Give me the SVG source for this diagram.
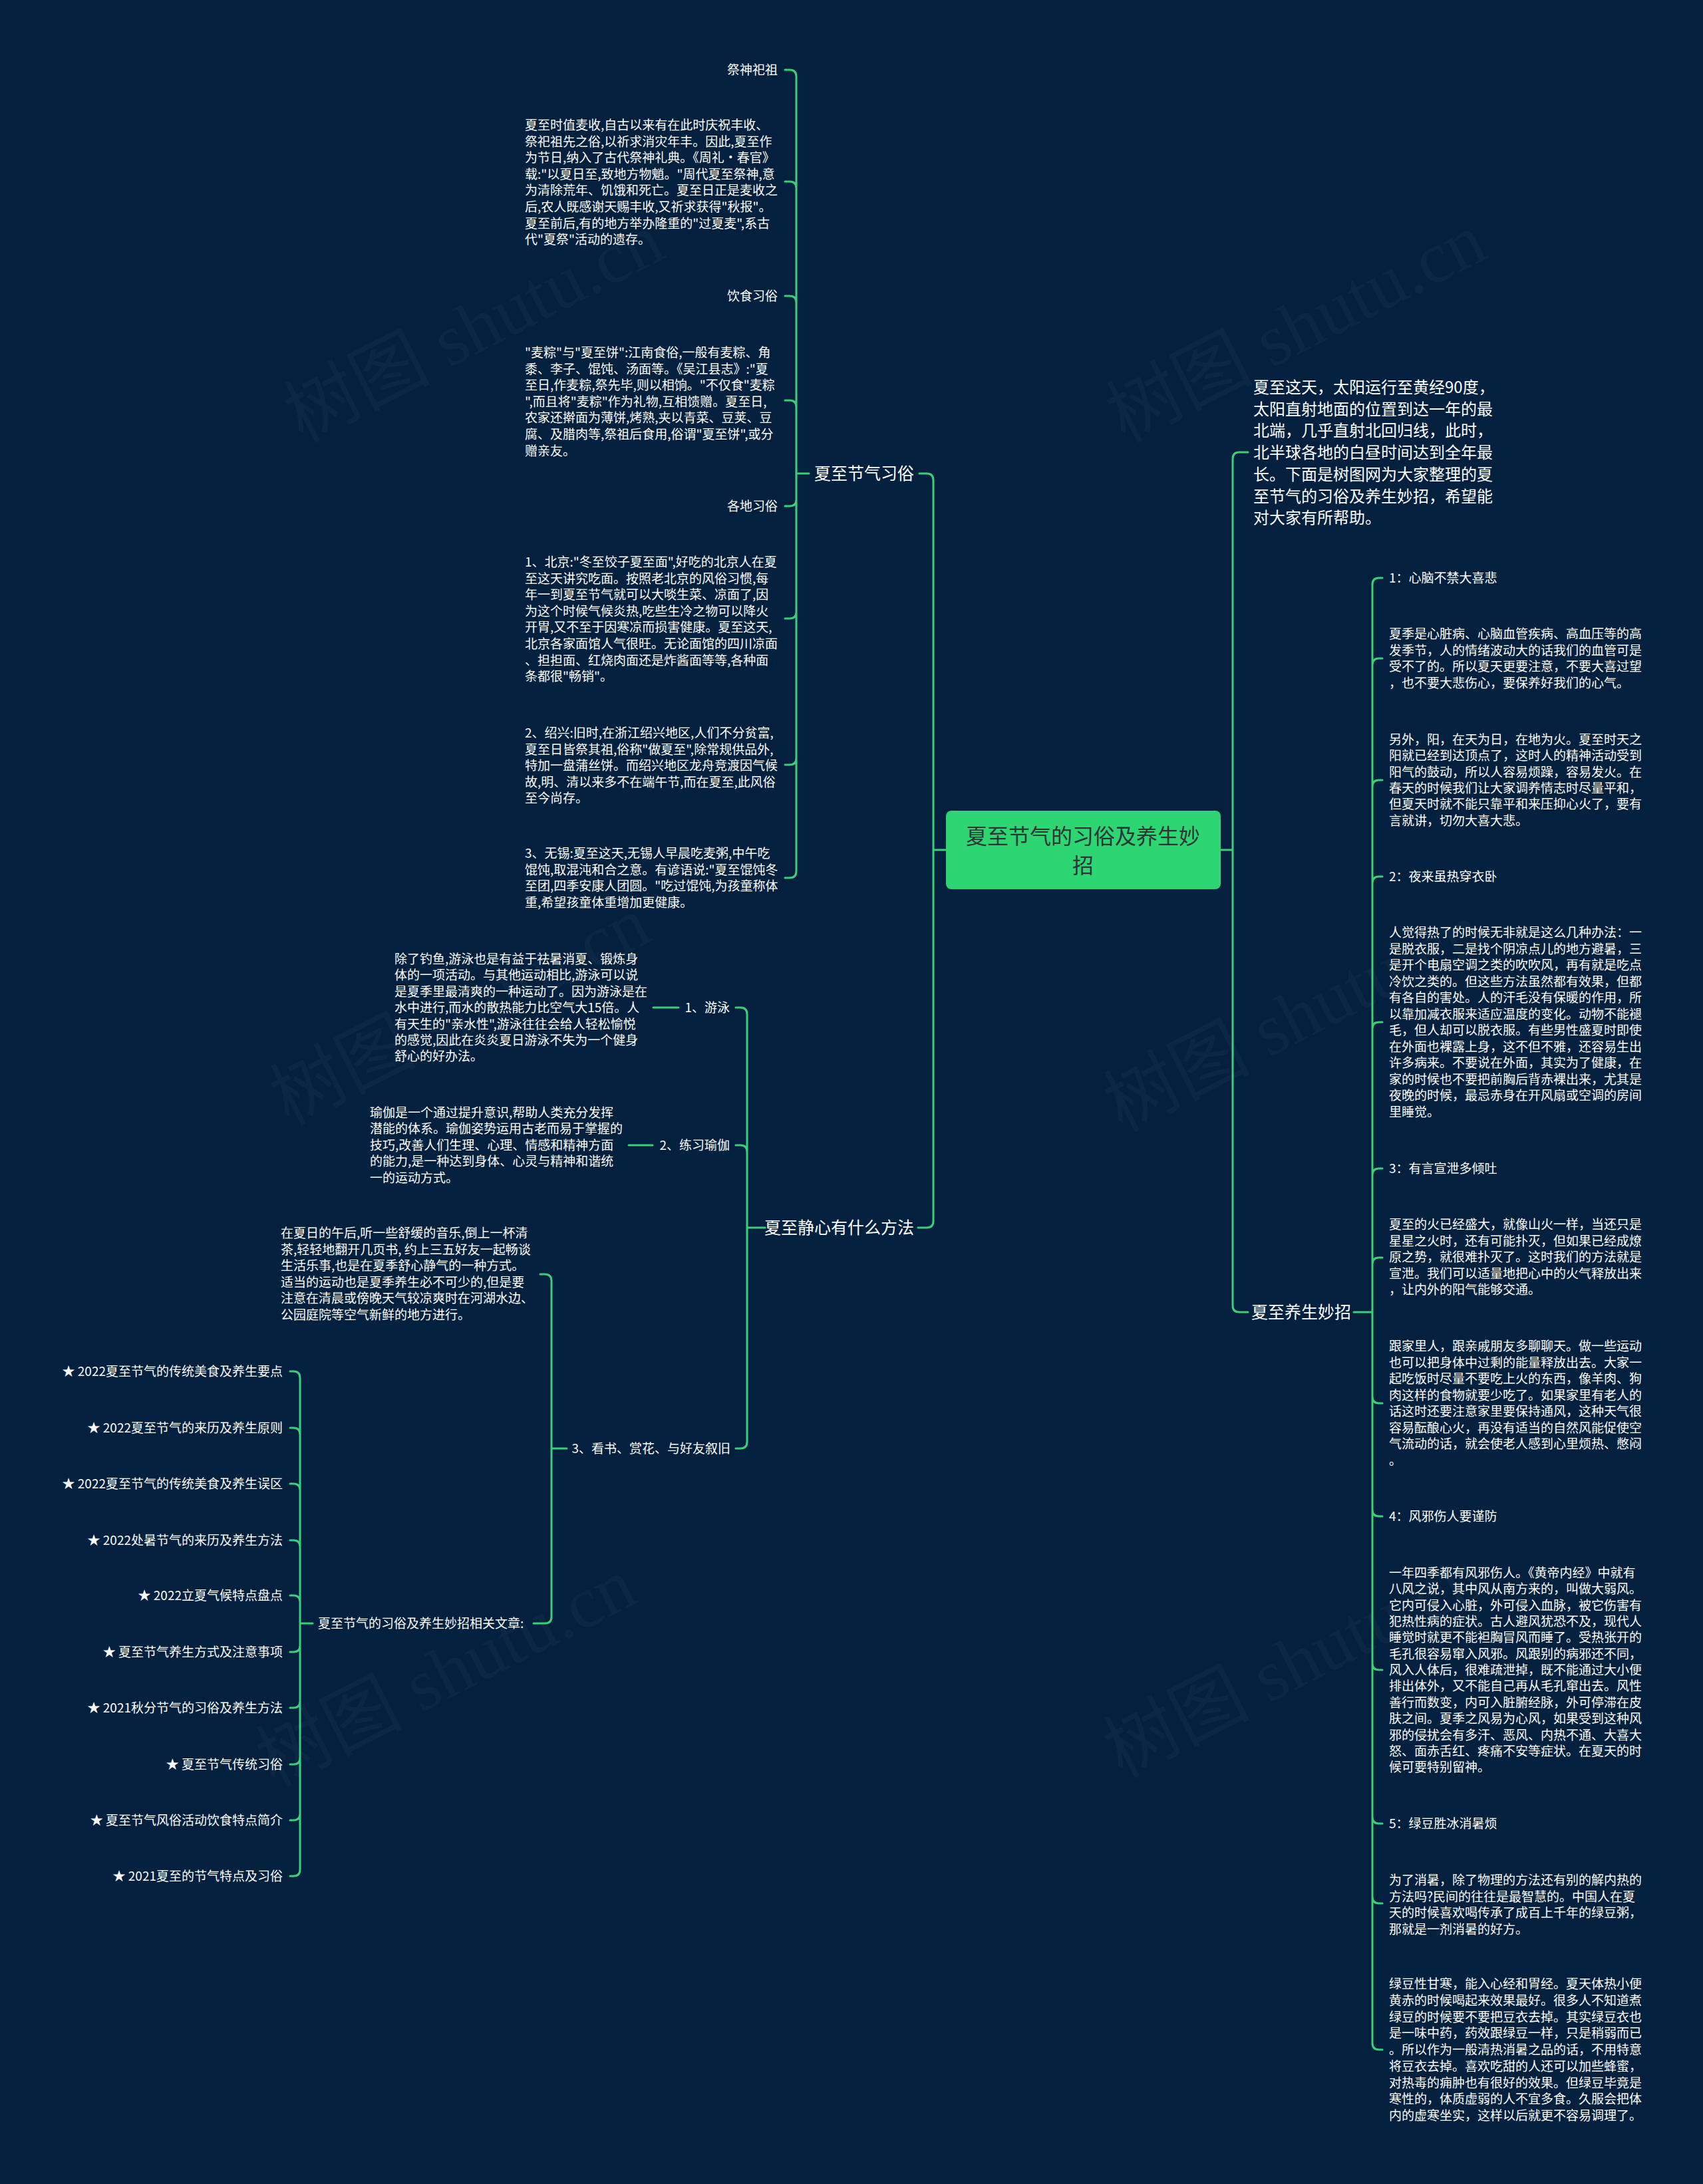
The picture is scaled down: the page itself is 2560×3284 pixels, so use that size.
<svg xmlns="http://www.w3.org/2000/svg" width="2560" height="3284" viewBox="0 0 2560 3284">
<style>
.t{font-family:"Noto Sans CJK SC","Noto Sans",sans-serif;fill:#ffffff;font-size:19px}
.l{font-size:25px}
.i{font-size:24px}
.r{font-family:"Noto Sans CJK SC","Noto Sans",sans-serif;fill:#2d3436;font-size:32px}
.c{fill:none;stroke:#3ccf7a;stroke-width:3;stroke-linecap:round;stroke-linejoin:round}
.wm{font-family:"Liberation Serif","Noto Sans CJK SC",serif;font-size:110px;fill:#ffffff;fill-opacity:0.035}
</style>
<rect width="2560" height="3284" fill="#03203e"/>
<g id="watermarks">
<text class="wm" x="712" y="530" text-anchor="middle" transform="rotate(-27 712 492)">树图 shutu.cn</text>
<text class="wm" x="1948" y="530" text-anchor="middle" transform="rotate(-27 1948 492)">树图 shutu.cn</text>
<text class="wm" x="691" y="1557" text-anchor="middle" transform="rotate(-27 691 1519)">树图 shutu.cn</text>
<text class="wm" x="1944" y="1567" text-anchor="middle" transform="rotate(-27 1944 1529)">树图 shutu.cn</text>
<text class="wm" x="670" y="2552" text-anchor="middle" transform="rotate(-27 670 2514)">树图 shutu.cn</text>
<text class="wm" x="1944" y="2538" text-anchor="middle" transform="rotate(-27 1944 2500)">树图 shutu.cn</text>
</g>
<g id="connectors">
<path class="c" d="M1422,1278 H1403 M1403,1278 V722 Q1403,712 1393,712 H1382 M1403,1278 V1836 Q1403,1846 1393,1846 H1380"/>
<path class="c" d="M1835,1278 H1853 M1853,1278 V690 Q1853,680 1863,680 H1876 M1853,1278 V1963 Q1853,1973 1863,1973 H1876"/>
<path class="c" d="M1216,712 H1197 M1197,712 V115 Q1197,105 1187,105 H1180 M1197,712 V283 Q1197,273 1187,273 H1180 M1197,712 V455 Q1197,445 1187,445 H1180 M1197,712 V612 Q1197,602 1187,602 H1180 M1197,712 V751 Q1197,761 1187,761 H1180 M1197,712 V920 Q1197,930 1187,930 H1180 M1197,712 V1140 Q1197,1150 1187,1150 H1180 M1197,712 V1310 Q1197,1320 1187,1320 H1180"/>
<path class="c" d="M1150,1846 H1123 M1123,1846 V1525 Q1123,1515 1113,1515 H1106 M1123,1846 V1732 Q1123,1722 1113,1722 H1106 M1123,1846 V2168 Q1123,2178 1113,2178 H1106 M1020,1515 H982 M981,1722 H945"/>
<path class="c" d="M852,2178 H829 M829,2178 V1926 Q829,1916 819,1916 H812 M829,2178 V2431 Q829,2441 819,2441 H802"/>
<path class="c" d="M470,2441 H451 M451,2441 V2072 Q451,2062 441,2062 H436 M451,2441 V2157 Q451,2147 441,2147 H436 M451,2441 V2241 Q451,2231 441,2231 H436 M451,2441 V2326 Q451,2316 441,2316 H436 M451,2441 V2409 Q451,2399 441,2399 H436 M451,2441 V2474 Q451,2484 441,2484 H436 M451,2441 V2558 Q451,2568 441,2568 H436 M451,2441 V2643 Q451,2653 441,2653 H436 M451,2441 V2727 Q451,2737 441,2737 H436 M451,2441 V2811 Q451,2821 441,2821 H436"/>
<path class="c" d="M2035,1973 H2063 M2063,1973 V879 Q2063,869 2073,869 H2078 M2063,1973 V1000 Q2063,990 2073,990 H2078 M2063,1973 V1183 Q2063,1173 2073,1173 H2078 M2063,1973 V1328 Q2063,1318 2073,1318 H2078 M2063,1973 V1547 Q2063,1537 2073,1537 H2078 M2063,1973 V1767 Q2063,1757 2073,1757 H2078 M2063,1973 V1901 Q2063,1891 2073,1891 H2078 M2063,1973 V2100 Q2063,2110 2073,2110 H2078 M2063,1973 V2270 Q2063,2280 2073,2280 H2078 M2063,1973 V2501 Q2063,2511 2073,2511 H2078 M2063,1973 V2732 Q2063,2742 2073,2742 H2078 M2063,1973 V2852 Q2063,2862 2073,2862 H2078 M2063,1973 V3072 Q2063,3082 2073,3082 H2078"/>
</g>
<g id="root">
<rect x="1422" y="1219" width="413" height="118" rx="8" fill="#2ed573"/>
<text class="r" text-anchor="middle"><tspan x="1628" y="1268.5">夏至节气的习俗及养生妙</tspan><tspan x="1628" y="1312.5">招</tspan></text>
</g>
<g id="intro">
<text class="t i"><tspan x="1884" y="591">夏至这天，太阳运行至黄经90度，</tspan><tspan x="1884" dy="32.7">太阳直射地面的位置到达一年的最</tspan><tspan x="1884" dy="32.7">北端，几乎直射北回归线，此时，</tspan><tspan x="1884" dy="32.7">北半球各地的白昼时间达到全年最</tspan><tspan x="1884" dy="32.7">长。下面是树图网为大家整理的夏</tspan><tspan x="1884" dy="32.7">至节气的习俗及养生妙招，希望能</tspan><tspan x="1884" dy="32.7">对大家有所帮助。</tspan></text>
</g>
<g id="customs">
<text class="t l" x="1224" y="721">夏至节气习俗</text>
</g>
<g id="custom-worship"><text class="t" x="1169" y="112" text-anchor="end">祭神祀祖</text></g>
<g id="custom-worship-text">
<text class="t"><tspan x="789" y="195">夏至时值麦收,自古以来有在此时庆祝丰收、</tspan><tspan x="789" dy="24.6">祭祀祖先之俗,以祈求消灾年丰。因此,夏至作</tspan><tspan x="789" dy="24.6">为节日,纳入了古代祭神礼典。《周礼·春官》</tspan><tspan x="789" dy="24.6">载:"以夏日至,致地方物魈。"周代夏至祭神,意</tspan><tspan x="789" dy="24.6">为清除荒年、饥饿和死亡。夏至日正是麦收之</tspan><tspan x="789" dy="24.6">后,农人既感谢天赐丰收,又祈求获得"秋报"。</tspan><tspan x="789" dy="24.6">夏至前后,有的地方举办隆重的"过夏麦",系古</tspan><tspan x="789" dy="24.6">代"夏祭"活动的遗存。</tspan></text>
</g>
<g id="custom-food"><text class="t" x="1169" y="452" text-anchor="end">饮食习俗</text></g>
<g id="custom-food-text">
<text class="t"><tspan x="789" y="537">"麦粽"与"夏至饼":江南食俗,一般有麦粽、角</tspan><tspan x="789" dy="24.6">黍、李子、馄饨、汤面等。《吴江县志》:"夏</tspan><tspan x="789" dy="24.6">至日,作麦粽,祭先毕,则以相饷。"不仅食"麦粽</tspan><tspan x="789" dy="24.6">",而且将"麦粽"作为礼物,互相馈赠。夏至日,</tspan><tspan x="789" dy="24.6">农家还擀面为薄饼,烤熟,夹以青菜、豆荚、豆</tspan><tspan x="789" dy="24.6">腐、及腊肉等,祭祖后食用,俗谓"夏至饼",或分</tspan><tspan x="789" dy="24.6">赠亲友。</tspan></text>
</g>
<g id="custom-local"><text class="t" x="1169" y="768" text-anchor="end">各地习俗</text></g>
<g id="custom-beijing">
<text class="t"><tspan x="789" y="852">1、北京:"冬至饺子夏至面",好吃的北京人在夏</tspan><tspan x="789" dy="24.6">至这天讲究吃面。按照老北京的风俗习惯,每</tspan><tspan x="789" dy="24.6">年一到夏至节气就可以大啖生菜、凉面了,因</tspan><tspan x="789" dy="24.6">为这个时候气候炎热,吃些生冷之物可以降火</tspan><tspan x="789" dy="24.6">开胃,又不至于因寒凉而损害健康。夏至这天,</tspan><tspan x="789" dy="24.6">北京各家面馆人气很旺。无论面馆的四川凉面</tspan><tspan x="789" dy="24.6">、担担面、红烧肉面还是炸酱面等等,各种面</tspan><tspan x="789" dy="24.6">条都很"畅销"。</tspan></text>
</g>
<g id="custom-shaoxing">
<text class="t"><tspan x="789" y="1109">2、绍兴:旧时,在浙江绍兴地区,人们不分贫富,</tspan><tspan x="789" dy="24.6">夏至日皆祭其祖,俗称"做夏至",除常规供品外,</tspan><tspan x="789" dy="24.6">特加一盘蒲丝饼。而绍兴地区龙舟竞渡因气候</tspan><tspan x="789" dy="24.6">故,明、清以来多不在端午节,而在夏至,此风俗</tspan><tspan x="789" dy="24.6">至今尚存。</tspan></text>
</g>
<g id="custom-wuxi">
<text class="t"><tspan x="789" y="1290">3、无锡:夏至这天,无锡人早晨吃麦粥,中午吃</tspan><tspan x="789" dy="24.6">馄饨,取混沌和合之意。有谚语说:"夏至馄饨冬</tspan><tspan x="789" dy="24.6">至团,四季安康人团圆。"吃过馄饨,为孩童称体</tspan><tspan x="789" dy="24.6">重,希望孩童体重增加更健康。</tspan></text>
</g>
<g id="calm"><text class="t l" x="1374" y="1855" text-anchor="end">夏至静心有什么方法</text></g>
<g id="calm-swim"><text class="t" x="1097" y="1522" text-anchor="end">1、游泳</text></g>
<g id="calm-swim-text">
<text class="t"><tspan x="593" y="1449">除了钓鱼,游泳也是有益于祛暑消夏、锻炼身</tspan><tspan x="593" dy="24.4">体的一项活动。与其他运动相比,游泳可以说</tspan><tspan x="593" dy="24.4">是夏季里最清爽的一种运动了。因为游泳是在</tspan><tspan x="593" dy="24.4">水中进行,而水的散热能力比空气大15倍。人</tspan><tspan x="593" dy="24.4">有天生的"亲水性",游泳往往会给人轻松愉悦</tspan><tspan x="593" dy="24.4">的感觉,因此在炎炎夏日游泳不失为一个健身</tspan><tspan x="593" dy="24.4">舒心的好办法。</tspan></text>
</g>
<g id="calm-yoga"><text class="t" x="1097" y="1729" text-anchor="end">2、练习瑜伽</text></g>
<g id="calm-yoga-text">
<text class="t"><tspan x="556" y="1680">瑜伽是一个通过提升意识,帮助人类充分发挥</tspan><tspan x="556" dy="24.4">潜能的体系。瑜伽姿势运用古老而易于掌握的</tspan><tspan x="556" dy="24.4">技巧,改善人们生理、心理、情感和精神方面</tspan><tspan x="556" dy="24.4">的能力,是一种达到身体、心灵与精神和谐统</tspan><tspan x="556" dy="24.4">一的运动方式。</tspan></text>
</g>
<g id="calm-read"><text class="t" x="1098" y="2185" text-anchor="end">3、看书、赏花、与好友叙旧</text></g>
<g id="calm-read-text">
<text class="t"><tspan x="422" y="1861">在夏日的午后,听一些舒缓的音乐,倒上一杯清</tspan><tspan x="422" dy="24.6">茶,轻轻地翻开几页书, 约上三五好友一起畅谈</tspan><tspan x="422" dy="24.6">生活乐事,也是在夏季舒心静气的一种方式。</tspan><tspan x="422" dy="24.6">适当的运动也是夏季养生必不可少的,但是要</tspan><tspan x="422" dy="24.6">注意在清晨或傍晚天气较凉爽时在河湖水边、</tspan><tspan x="422" dy="24.6">公园庭院等空气新鲜的地方进行。</tspan></text>
</g>
<g id="related"><text class="t" x="478" y="2448">夏至节气的习俗及养生妙招相关文章:</text></g>
<g id="related-items">
<text class="t" x="425" y="2069" text-anchor="end">★ 2022夏至节气的传统美食及养生要点</text>
<text class="t" x="425" y="2154" text-anchor="end">★ 2022夏至节气的来历及养生原则</text>
<text class="t" x="425" y="2238" text-anchor="end">★ 2022夏至节气的传统美食及养生误区</text>
<text class="t" x="425" y="2323" text-anchor="end">★ 2022处暑节气的来历及养生方法</text>
<text class="t" x="425" y="2406" text-anchor="end">★ 2022立夏气候特点盘点</text>
<text class="t" x="425" y="2491" text-anchor="end">★ 夏至节气养生方式及注意事项</text>
<text class="t" x="425" y="2575" text-anchor="end">★ 2021秋分节气的习俗及养生方法</text>
<text class="t" x="425" y="2660" text-anchor="end">★ 夏至节气传统习俗</text>
<text class="t" x="425" y="2744" text-anchor="end">★ 夏至节气风俗活动饮食特点简介</text>
<text class="t" x="425" y="2828" text-anchor="end">★ 2021夏至的节气特点及习俗</text>
</g>
<g id="health"><text class="t l" x="1881" y="1982">夏至养生妙招</text></g>
<g id="health-1"><text class="t" x="2088" y="876">1：心脑不禁大喜悲</text></g>
<g id="health-1a">
<text class="t"><tspan x="2088" y="960">夏季是心脏病、心脑血管疾病、高血压等的高</tspan><tspan x="2088" dy="24.6">发季节，人的情绪波动大的话我们的血管可是</tspan><tspan x="2088" dy="24.6">受不了的。所以夏天更要注意，不要大喜过望</tspan><tspan x="2088" dy="24.6">，也不要大悲伤心，要保养好我们的心气。</tspan></text>
</g>
<g id="health-1b">
<text class="t"><tspan x="2088" y="1119">另外，阳，在天为日，在地为火。夏至时天之</tspan><tspan x="2088" dy="24.3">阳就已经到达顶点了，这时人的精神活动受到</tspan><tspan x="2088" dy="24.3">阳气的鼓动，所以人容易烦躁，容易发火。在</tspan><tspan x="2088" dy="24.3">春天的时候我们让大家调养情志时尽量平和，</tspan><tspan x="2088" dy="24.3">但夏天时就不能只靠平和来压抑心火了，要有</tspan><tspan x="2088" dy="24.3">言就讲，切勿大喜大悲。</tspan></text>
</g>
<g id="health-2"><text class="t" x="2088" y="1325">2：夜来虽热穿衣卧</text></g>
<g id="health-2a">
<text class="t"><tspan x="2088" y="1409">人觉得热了的时候无非就是这么几种办法：一</tspan><tspan x="2088" dy="24.5">是脱衣服，二是找个阴凉点儿的地方避暑，三</tspan><tspan x="2088" dy="24.5">是开个电扇空调之类的吹吹风，再有就是吃点</tspan><tspan x="2088" dy="24.5">冷饮之类的。但这些方法虽然都有效果，但都</tspan><tspan x="2088" dy="24.5">有各自的害处。人的汗毛没有保暖的作用，所</tspan><tspan x="2088" dy="24.5">以靠加减衣服来适应温度的变化。动物不能褪</tspan><tspan x="2088" dy="24.5">毛，但人却可以脱衣服。有些男性盛夏时即使</tspan><tspan x="2088" dy="24.5">在外面也裸露上身，这不但不雅，还容易生出</tspan><tspan x="2088" dy="24.5">许多病来。不要说在外面，其实为了健康，在</tspan><tspan x="2088" dy="24.5">家的时候也不要把前胸后背赤裸出来，尤其是</tspan><tspan x="2088" dy="24.5">夜晚的时候，最忌赤身在开风扇或空调的房间</tspan><tspan x="2088" dy="24.5">里睡觉。</tspan></text>
</g>
<g id="health-3"><text class="t" x="2088" y="1764">3：有言宣泄多倾吐</text></g>
<g id="health-3a">
<text class="t"><tspan x="2088" y="1848">夏至的火已经盛大，就像山火一样，当还只是</tspan><tspan x="2088" dy="24.5">星星之火时，还有可能扑灭，但如果已经成燎</tspan><tspan x="2088" dy="24.5">原之势，就很难扑灭了。这时我们的方法就是</tspan><tspan x="2088" dy="24.5">宣泄。我们可以适量地把心中的火气释放出来</tspan><tspan x="2088" dy="24.5">，让内外的阳气能够交通。</tspan></text>
</g>
<g id="health-3b">
<text class="t"><tspan x="2088" y="2031">跟家里人，跟亲戚朋友多聊聊天。做一些运动</tspan><tspan x="2088" dy="24.5">也可以把身体中过剩的能量释放出去。大家一</tspan><tspan x="2088" dy="24.5">起吃饭时尽量不要吃上火的东西，像羊肉、狗</tspan><tspan x="2088" dy="24.5">肉这样的食物就要少吃了。如果家里有老人的</tspan><tspan x="2088" dy="24.5">话这时还要注意家里要保持通风，这种天气很</tspan><tspan x="2088" dy="24.5">容易酝酿心火，再没有适当的自然风能促使空</tspan><tspan x="2088" dy="24.5">气流动的话，就会使老人感到心里烦热、憋闷</tspan><tspan x="2088" dy="24.5">。</tspan></text>
</g>
<g id="health-4"><text class="t" x="2088" y="2287">4：风邪伤人要谨防</text></g>
<g id="health-4a">
<text class="t"><tspan x="2088" y="2372">一年四季都有风邪伤人。《黄帝内经》中就有</tspan><tspan x="2088" dy="24.35">八风之说，其中风从南方来的，叫做大弱风。</tspan><tspan x="2088" dy="24.35">它内可侵入心脏，外可侵入血脉，被它伤害有</tspan><tspan x="2088" dy="24.35">犯热性病的症状。古人避风犹恐不及，现代人</tspan><tspan x="2088" dy="24.35">睡觉时就更不能袒胸冒风而睡了。受热张开的</tspan><tspan x="2088" dy="24.35">毛孔很容易窜入风邪。风跟别的病邪还不同，</tspan><tspan x="2088" dy="24.35">风入人体后，很难疏泄掉，既不能通过大小便</tspan><tspan x="2088" dy="24.35">排出体外，又不能自己再从毛孔窜出去。风性</tspan><tspan x="2088" dy="24.35">善行而数变，内可入脏腑经脉，外可停滞在皮</tspan><tspan x="2088" dy="24.35">肤之间。夏季之风易为心风，如果受到这种风</tspan><tspan x="2088" dy="24.35">邪的侵扰会有多汗、恶风、内热不通、大喜大</tspan><tspan x="2088" dy="24.35">怒、面赤舌红、疼痛不安等症状。在夏天的时</tspan><tspan x="2088" dy="24.35">候可要特别留神。</tspan></text>
</g>
<g id="health-5"><text class="t" x="2088" y="2749">5：绿豆胜冰消暑烦</text></g>
<g id="health-5a">
<text class="t"><tspan x="2088" y="2834">为了消暑，除了物理的方法还有别的解内热的</tspan><tspan x="2088" dy="24.6">方法吗?民间的往往是最智慧的。中国人在夏</tspan><tspan x="2088" dy="24.6">天的时候喜欢喝传承了成百上千年的绿豆粥，</tspan><tspan x="2088" dy="24.6">那就是一剂消暑的好方。</tspan></text>
</g>
<g id="health-5b">
<text class="t"><tspan x="2088" y="2990">绿豆性甘寒，能入心经和胃经。夏天体热小便</tspan><tspan x="2088" dy="24.75">黄赤的时候喝起来效果最好。很多人不知道煮</tspan><tspan x="2088" dy="24.75">绿豆的时候要不要把豆衣去掉。其实绿豆衣也</tspan><tspan x="2088" dy="24.75">是一味中药，药效跟绿豆一样，只是稍弱而已</tspan><tspan x="2088" dy="24.75">。所以作为一般清热消暑之品的话，不用特意</tspan><tspan x="2088" dy="24.75">将豆衣去掉。喜欢吃甜的人还可以加些蜂蜜，</tspan><tspan x="2088" dy="24.75">对热毒的痈肿也有很好的效果。但绿豆毕竟是</tspan><tspan x="2088" dy="24.75">寒性的，体质虚弱的人不宜多食。久服会把体</tspan><tspan x="2088" dy="24.75">内的虚寒坐实，这样以后就更不容易调理了。</tspan></text>
</g>
</svg>
